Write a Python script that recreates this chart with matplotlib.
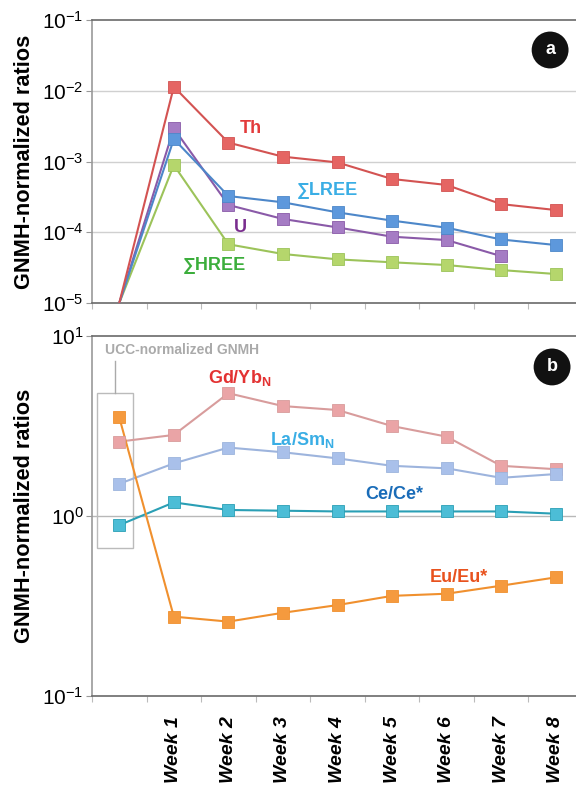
import matplotlib
matplotlib.use("Agg")
import matplotlib.pyplot as plt
from matplotlib.patches import Rectangle
import numpy as np

plt.rcParams['font.family'] = ['Liberation Sans', 'DejaVu Sans']
plt.rcParams['mathtext.fontset'] = 'custom'
plt.rcParams['mathtext.rm'] = 'Liberation Sans'
plt.rcParams['mathtext.bf'] = 'Liberation Sans:bold'
plt.rcParams['mathtext.it'] = 'Liberation Sans:italic'

categories = ["", "Week 1", "Week 2", "Week 3", "Week 4", "Week 5", "Week 6", "Week 7", "Week 8"]

# Panel a (index 0 = starting point at lower axis limit)
th = [1e-5, 1.14e-2, 1.85e-3, 1.17e-3, 9.7e-4, 5.66e-4, 4.66e-4, 2.5e-4, 2.06e-4]
lree = [1e-5, 2.08e-3, 3.25e-4, 2.65e-4, 1.91e-4, 1.46e-4, 1.16e-4, 7.9e-5, 6.6e-5]
u = [1e-5, 2.94e-3, 2.43e-4, 1.54e-4, 1.17e-4, 8.65e-5, 7.76e-5, 4.6e-5, np.nan]
hree = [1e-5, 8.9e-4, 6.76e-5, 4.93e-5, 4.14e-5, 3.76e-5, 3.44e-5, 2.92e-5, 2.57e-5]

# Panel b (index 0 = UCC-normalized GNMH)
gdyb = [2.59, 2.82, 4.81, 4.08, 3.88, 3.16, 2.76, 1.90, 1.82]
lasm = [1.51, 1.96, 2.40, 2.26, 2.09, 1.90, 1.84, 1.63, 1.71]
cece = [0.89, 1.19, 1.08, 1.07, 1.06, 1.06, 1.06, 1.06, 1.03]
eueu = [3.53, 0.276, 0.259, 0.29, 0.32, 0.36, 0.37, 0.41, 0.456]

x = np.arange(len(categories))

fig = plt.figure(figsize=(5.76, 7.85), dpi=100)
axa = fig.add_axes([92/576, 1-303/785, 491/576, 283/785])
axb = fig.add_axes([92/576, 1-696/785, 491/576, 360/785])

spine_c = '#6a6a6a'
grid_c = '#d0d0d0'

def style(ax, ylim):
    ax.set_yscale('log')
    ax.set_ylim(*ylim)
    ax.set_xlim(-0.5, len(categories) - 0.5)
    ax.set_xticks(np.arange(-0.5, len(categories) - 0.4, 1.0))
    ax.set_xticklabels([])
    ax.tick_params(axis='x', which='major', length=4, color='#bbbbbb', direction='out')
    ax.tick_params(axis='y', which='major', length=4, color='#999999', labelsize=15, pad=2)
    ax.tick_params(axis='y', which='minor', length=0)
    ax.yaxis.set_minor_locator(matplotlib.ticker.NullLocator())
    for s in ax.spines.values():
        s.set_color(spine_c)
        s.set_linewidth(1.2)
    ax.spines['left'].set_color('#999999')
    ax.set_ylabel('GNMH-normalized ratios', fontsize=15.7, fontweight='bold', labelpad=5)

def series(ax, y, lc, mc, start=1):
    ax.plot(x, y, color=lc, lw=1.5, zorder=3)
    ax.plot(x[start:], np.array(y)[start:], ls='none', marker='s', ms=8,
            mfc=mc, mec=lc, mew=0.6, zorder=4)

style(axa, (1e-5, 1e-1))
axa.set_yticks([1e-5, 1e-4, 1e-3, 1e-2, 1e-1])
axa.set_yticklabels([r'$10^{-5}$', r'$10^{-4}$', r'$10^{-3}$', r'$10^{-2}$', r'$10^{-1}$'])
for v in [1e-4, 1e-3, 1e-2]:
    axa.axhline(v, color=grid_c, lw=1, zorder=1)

series(axa, hree, '#9cc35a', '#b5d66c')
series(axa, u, '#8a5aa8', '#a57cc4')
series(axa, lree, '#4d87c9', '#5d98dc')
series(axa, th, '#d35352', '#e56563')

axa.text(2.42, 2.97e-3, 'Th', color='#e33b3b', fontsize=13, fontweight='bold', ha='center', va='center')
axa.text(3.81, 3.95e-4, '∑LREE', color='#3aaee5', fontsize=13, fontweight='bold', ha='center', va='center',
         family=['Liberation Sans', 'DejaVu Sans'])
axa.text(2.22, 1.15e-4, 'U', color='#7a2d8e', fontsize=13, fontweight='bold', ha='center', va='center')
axa.text(1.74, 3.44e-5, '∑HREE', color='#3cae3c', fontsize=13, fontweight='bold', ha='center', va='center',
         family=['Liberation Sans', 'DejaVu Sans'])
axa.text(0.933, 0.894, 'a', transform=axa.transAxes, color='white', fontsize=13, fontweight='bold',
         ha='center', va='center',
         bbox=dict(boxstyle='circle,pad=0.55', fc='#111111', ec='none'))

style(axb, (0.1, 10))
axb.set_yticks([0.1, 1, 10])
axb.set_yticklabels([r'$10^{-1}$', r'$10^{0}$', r'$10^{1}$'])
axb.axhline(1.0, color='#b8b8b8', lw=1, zorder=1)

series(axb, gdyb, '#d89c9c', '#eaa4a6', start=0)
series(axb, lasm, '#9db4dd', '#a9c0ea', start=0)
series(axb, cece, '#2a9fb5', '#4cbdd6', start=0)
series(axb, eueu, '#f0902e', '#f59a3e', start=0)

axb.add_patch(Rectangle((-0.40, 0.664), 0.656, 4.82 - 0.664, fill=False, ec='#bbbbbb', lw=1, zorder=2))
axb.plot([-0.07, -0.07], [7.3, 4.82], color='#aaaaaa', lw=1, zorder=2)
axb.text(-0.27, 8.4, 'UCC-normalized GNMH', color='#aaaaaa', fontsize=10, fontweight='bold',
         ha='left', va='center')
axb.text(2.2, 5.84, r'Gd/Yb$_\mathbf{N}$', color='#e33232', fontsize=13, fontweight='bold', ha='center', va='center')
axb.text(3.35, 2.64, r'La/Sm$_\mathbf{N}$', color='#3aaee5', fontsize=13, fontweight='bold', ha='center', va='center')
axb.text(5.04, 1.32, 'Ce/Ce*', color='#1a6cb8', fontsize=13, fontweight='bold', ha='center', va='center')
axb.text(6.23, 0.453, 'Eu/Eu*', color='#e8521e', fontsize=13, fontweight='bold', ha='center', va='center')
axb.text(0.937, 0.914, 'b', transform=axb.transAxes, color='white', fontsize=13, fontweight='bold',
         ha='center', va='center',
         bbox=dict(boxstyle='circle,pad=0.55', fc='#111111', ec='none'))

for xi, lab in zip(x, categories):
    if lab:
        axb.text(xi, -0.055, lab, transform=axb.get_xaxis_transform(), rotation=90,
                 ha='center', va='top', fontsize=14, fontweight='bold', fontstyle='italic')

fig.savefig('out.png', dpi=100)
